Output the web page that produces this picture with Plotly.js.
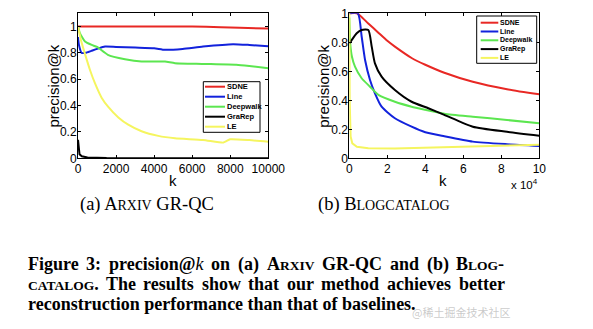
<!DOCTYPE html>
<html><head><meta charset="utf-8">
<script src="https://cdn.plot.ly/plotly-3.0.1.min.js"></script>
<style>html,body{margin:0;padding:0;background:#fff}#chart{width:593px;height:329px}</style>
</head><body><div id="chart"></div>
<script>
// ---- series names / colours ----
const names = ['SDNE', 'Line', 'Deepwalk', 'GraRep', 'LE'];
const colors = ['rgb(232,40,36)', 'rgb(18,34,220)', 'rgb(92,230,80)', 'rgb(0,0,0)', 'rgb(245,245,95)'];

// ---- (a) Arxiv GR-QC ----
const arxivSdneK = [0, 2000, 4000, 6000, 7500, 8500, 10000];
const arxivSdneP = [1, 1, 1, 1, 0.995, 0.99, 0.985];
const arxivLineK = [0, 50, 190, 400, 700, 1000, 1420, 2000, 3000, 4000, 4570, 5500, 6570, 8150, 9000, 10000];
const arxivLineP = [0.92, 0.86, 0.80, 0.80, 0.815, 0.83, 0.848, 0.845, 0.84, 0.835, 0.823, 0.83, 0.848, 0.866, 0.86, 0.85];
const arxivDeepK = [0, 100, 370, 720, 1000, 1570, 2470, 3340, 4000, 4570, 5100, 6570, 8320, 9000, 10000];
const arxivDeepP = [1.0, 0.95, 0.886, 0.86, 0.845, 0.785, 0.752, 0.734, 0.735, 0.734, 0.722, 0.716, 0.709, 0.70, 0.684];
const arxivGraK = [0, 30, 80, 200, 500, 1500, 4000, 10000];
const arxivGraP = [0.14, 0.06, 0.03, 0.015, 0.007, 0.003, 0.001, 0.001];
const arxivLeK = [0, 150, 370, 630, 890, 1240, 1590, 2120, 2640, 3340, 4220, 5100, 6570, 7640, 7800, 7990, 9000, 10000];
const arxivLeP = [1.0, 0.9, 0.79, 0.67, 0.57, 0.46, 0.39, 0.31, 0.255, 0.205, 0.17, 0.152, 0.139, 0.119, 0.13, 0.144, 0.138, 0.126];

// ---- (b) BlogCatalog ----
const blogSdneK = [0, 4000, 6000, 10000, 15000, 20000, 24000, 33000, 40000, 50000, 65000, 83000, 100000];
const blogSdneP = [1.0, 1.0, 0.98, 0.93, 0.87, 0.81, 0.77, 0.69, 0.645, 0.59, 0.528, 0.476, 0.441];
const blogLineK = [0, 4500, 6500, 8300, 10900, 13500, 17000, 24000, 32800, 40000, 50000, 65000, 83000, 100000];
const blogLineP = [1.0, 1.0, 0.84, 0.678, 0.54, 0.448, 0.356, 0.276, 0.218, 0.18, 0.152, 0.115, 0.097, 0.085];
const blogDeepK = [0, 500, 1400, 3000, 6500, 10900, 15300, 24000, 32800, 40000, 50000, 65000, 83000, 100000];
const blogDeepP = [0.97, 0.79, 0.70, 0.632, 0.552, 0.494, 0.437, 0.39, 0.356, 0.335, 0.308, 0.287, 0.264, 0.241];
const blogGraK = [0, 500, 1500, 3900, 6500, 10000, 11800, 13500, 17000, 24000, 32800, 41600, 50000, 65000, 83000, 100000];
const blogGraP = [0.79, 0.80, 0.82, 0.862, 0.885, 0.885, 0.77, 0.655, 0.563, 0.471, 0.39, 0.345, 0.30, 0.218, 0.183, 0.156];
const blogLeK = [0, 200, 700, 1600, 4000, 10000, 24000, 50000, 75000, 100000];
const blogLeP = [1.0, 0.4, 0.15, 0.103, 0.08, 0.069, 0.068, 0.078, 0.088, 0.094];

// ---- tick labels / axis titles ----
const arxivTicks = [0, 2000, 4000, 6000, 8000, 10000];
const blogTickVals = [0, 20000, 40000, 60000, 80000, 100000];
const blogTickText = ['0', '2', '4', '6', '8', '10'];
const yTickVals = [0, 0.2, 0.4, 0.6, 0.8, 1];
const yTickText = ['0', '0.2', '0.4', '0.6', '0.8', '1'];
const xTitle = 'k', yTitle = 'precision@k';

const W = 593, H = 329;
const px = v => v / W, py = v => 1 - v / H;

const arxiv = [[arxivSdneK, arxivSdneP], [arxivLineK, arxivLineP], [arxivDeepK, arxivDeepP], [arxivGraK, arxivGraP], [arxivLeK, arxivLeP]];
const blog = [[blogSdneK, blogSdneP], [blogLineK, blogLineP], [blogDeepK, blogDeepP], [blogGraK, blogGraP], [blogLeK, blogLeP]];

const traces = [];
arxiv.forEach((s, i) => traces.push({x: s[0], y: s[1], name: names[i], type: 'scatter', mode: 'lines',
  line: {color: colors[i], width: 2, shape: i === 3 ? 'linear' : 'spline', smoothing: 0.5},
  xaxis: 'x', yaxis: 'y', showlegend: false}));
blog.forEach((s, i) => traces.push({x: s[0], y: s[1], name: names[i], type: 'scatter', mode: 'lines',
  line: {color: colors[i], width: 2, shape: i === 4 ? 'linear' : 'spline', smoothing: 0.6},
  xaxis: 'x2', yaxis: 'y2', showlegend: false}));

const sans = 'Liberation Sans, Arial, sans-serif';
const tickFont = {family: sans, size: 12, color: '#000'};
const titleFont = {family: sans, size: 15, color: '#000'};
const axBase = {showline: true, linecolor: '#000', linewidth: 1, mirror: 'ticks', ticks: 'inside', ticklen: 3,
  tickcolor: '#000', showgrid: false, zeroline: false, tickfont: tickFont, fixedrange: true};

const shapes = [], annotations = [];
// axis titles placed precisely as paper annotations
[[173, 180, xTitle, 0], [443, 180, xTitle, 0], [53, 86.5, yTitle, -90], [323.3, 86.5, yTitle, -90]].forEach(a =>
  annotations.push({xref: 'paper', yref: 'paper', x: px(a[0]), y: py(a[1]), xanchor: 'center', yanchor: 'middle',
    text: a[2], textangle: a[3], showarrow: false, borderpad: 0, font: titleFont}));

// manual legends (small MATLAB-style boxes)
function legend(x0, x1, y0, y1, firstY, step, lx0, lx1, tx, fs) {
  shapes.push({type: 'rect', xref: 'paper', yref: 'paper', x0: px(x0), x1: px(x1), y0: py(y1), y1: py(y0),
    line: {color: '#000', width: 1}, fillcolor: '#fff', layer: 'above'});
  names.forEach((n, i) => {
    const yy = firstY + step * i;
    shapes.push({type: 'line', xref: 'paper', yref: 'paper', x0: px(lx0), x1: px(lx1), y0: py(yy), y1: py(yy),
      line: {color: colors[i], width: 2}, layer: 'above'});
    annotations.push({xref: 'paper', yref: 'paper', x: px(tx), y: py(yy), xanchor: 'left', yanchor: 'middle',
      text: '<b>' + n + '</b>', showarrow: false, borderpad: 0,
      font: {family: sans, size: fs, color: '#000'}});
  });
}
legend(203.3, 260, 81.7, 132.3, 86.7, 10, 205, 225, 225.5, 7.5);
legend(476.7, 536.7, 16, 63.3, 22.7, 8.8, 480.7, 498.3, 499, 7);

// x 10^4 multiplier
annotations.push({xref: 'paper', yref: 'paper', x: px(540), y: py(184), xanchor: 'right', yanchor: 'middle',
  text: 'x 10<sup>4</sup>', showarrow: false, font: {family: sans, size: 11.5, color: '#000'}});

// sub-captions
const serif = 'Liberation Serif, Times New Roman, serif';
const sc = t => '<span style="font-size:14px">' + t + '</span>';
annotations.push({xref: 'paper', yref: 'paper', x: px(146.7), y: py(204.5), xanchor: 'center', yanchor: 'middle',
  text: '(a) A' + sc('RXIV') + ' GR-QC', showarrow: false, font: {family: serif, size: 18.5, color: '#000'}});
annotations.push({xref: 'paper', yref: 'paper', x: px(384), y: py(204.5), xanchor: 'center', yanchor: 'middle',
  text: '(b) B' + sc('LOGCATALOG'), showarrow: false, font: {family: serif, size: 18.5, color: '#000'}});

// figure caption (justified lines 1-2, left-aligned last line)
const CAP = 18, SC = 13.5;
// each word: list of [text, size, italic]
const capWords1 = [
  [['Figure', CAP]], [['3:', CAP]], [['precision@', CAP], ['k', CAP, true]], [['on', CAP]], [['(a)', CAP]],
  [['A', CAP], ['RXIV', SC]], [['GR-QC', CAP]], [['and', CAP]], [['(b)', CAP]], [['B', CAP], ['LOG', SC], ['-', CAP]]
];
const capWords2 = [
  [['CATALOG', SC], ['.', CAP]], [['The', CAP]], [['results', CAP]], [['show', CAP]], [['that', CAP]],
  [['our', CAP]], [['method', CAP]], [['achieves', CAP]], [['better', CAP]]
];
const capLine3 = 'reconstruction performance than that of baselines.';
const capLeft = 26.5, capRight = 503.5, capY = [264, 284, 303.5];

const ctx = document.createElement('canvas').getContext('2d');
function segW(s) {
  ctx.font = (s[2] ? 'italic ' : 'bold ') + s[1] + 'px "Liberation Serif"';
  return ctx.measureText(s[0]).width;
}
function segHtml(s) {
  const inner = s[1] !== CAP ? '<span style="font-size:' + s[1] + 'px">' + s[0] + '</span>' : s[0];
  return s[2] ? '<i>' + inner + '</i>' : '<b>' + inner + '</b>';
}
function justify(words, yy) {
  const widths = words.map(w => w.reduce((a, s) => a + segW(s), 0));
  const total = widths.reduce((a, b) => a + b, 0);
  const gap = (capRight - capLeft - total) / (words.length - 1);
  let x = capLeft;
  words.forEach((w, i) => {
    annotations.push({xref: 'paper', yref: 'paper', x: px(x), y: py(yy), xanchor: 'left', yanchor: 'middle',
      text: w.map(segHtml).join(''), showarrow: false, borderpad: 0, font: {family: serif, size: CAP, color: '#000'}});
    x += widths[i] + gap;
  });
}
justify(capWords1, capY[0]);
justify(capWords2, capY[1]);
annotations.push({xref: 'paper', yref: 'paper', x: px(capLeft), y: py(capY[2]), xanchor: 'left', yanchor: 'middle',
  text: '<b>' + capLine3 + '</b>', showarrow: false, borderpad: 0, font: {family: serif, size: CAP, color: '#000'}});

// watermark
annotations.push({xref: 'paper', yref: 'paper', x: px(461), y: py(312), xanchor: 'center', yanchor: 'middle',
  text: '@稀土掘金技术社区', showarrow: false, font: {family: 'Noto Sans CJK SC, sans-serif', size: 11, color: 'rgba(150,150,150,0.5)'}});

const layout = {
  width: W, height: H, margin: {l: 0, r: 0, t: 0, b: 0}, paper_bgcolor: '#fff', plot_bgcolor: '#fff',
  showlegend: false,
  xaxis: Object.assign({}, axBase, {domain: [px(78), px(268.3)], range: [0, 10000], tickvals: arxivTicks,
    ticktext: arxivTicks.map(String), anchor: 'y', ticklabelstandoff: -1}),
  yaxis: Object.assign({}, axBase, {domain: [py(158.3), py(13.3)], range: [0, 1.1], tickvals: yTickVals,
    ticktext: yTickText, anchor: 'x', ticklabelstandoff: -2}),
  xaxis2: Object.assign({}, axBase, {domain: [px(349.3), px(539.3)], range: [0, 100000], tickvals: blogTickVals,
    ticktext: blogTickText, anchor: 'y2', ticklabelstandoff: -1}),
  yaxis2: Object.assign({}, axBase, {domain: [py(158.3), py(13.3)], range: [0, 1], tickvals: yTickVals,
    ticktext: yTickText, anchor: 'x2', ticklabelstandoff: -2}),
  shapes: shapes, annotations: annotations
};
Plotly.newPlot('chart', traces, layout, {staticPlot: true, displayModeBar: false});
</script></body></html>
